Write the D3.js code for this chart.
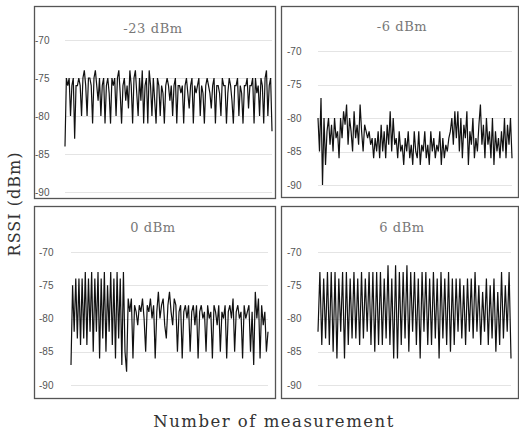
<!DOCTYPE html>
<html>
<head>
<meta charset="utf-8">
<script src="https://cdn.jsdelivr.net/npm/d3@7"></script>
<style>
  body { margin: 0; background: #fff; }
  svg { display: block; }
</style>
</head>
<body>
<svg width="519" height="435"></svg>
<script>
// panel titles (tx power)
var titles = ["-23 dBm", "-6 dBm", "0 dBm", "6 dBm"];
var yTicks = [-70, -75, -80, -85, -90];

// RSSI readings
var rssi_m23 = [-84, -75, -76, -75, -80, -76, -75, -83, -76, -76, -75, -76, -80, -75, -74, -76, -80, -75, -75, -76,
  -81, -75, -74, -76, -78, -75, -80, -76, -75, -81, -76, -75, -77, -81, -75, -76, -75, -80, -75, -74,
  -77, -81, -76, -75, -78, -76, -79, -74, -76, -81, -75, -74, -77, -80, -75, -78, -74, -81, -76, -75,
  -81, -74, -76, -80, -75, -78, -81, -75, -76, -80, -76, -77, -81, -76, -75, -76, -78, -76, -80, -76,
  -75, -81, -76, -76, -77, -76, -81, -76, -75, -77, -79, -76, -75, -81, -76, -77, -76, -75, -80, -76,
  -77, -81, -76, -75, -76, -77, -79, -76, -75, -81, -76, -76, -77, -80, -75, -76, -76, -81, -77, -75,
  -76, -78, -81, -76, -76, -75, -80, -76, -77, -81, -76, -76, -75, -79, -76, -76, -75, -81, -75, -77,
  -76, -80, -75, -76, -81, -75, -74, -80, -76, -75, -82];

var rssi_m6 = [-80, -85, -77, -90, -80, -87, -82, -80, -84, -81, -85, -80, -83, -82, -86, -80, -83, -79, -81, -78,
  -84, -80, -82, -85, -79, -83, -81, -84, -78, -82, -85, -81, -82, -83, -82, -84, -83, -86, -83, -85,
  -82, -86, -81, -85, -82, -86, -81, -84, -79, -85, -80, -84, -83, -86, -82, -85, -84, -87, -83, -85,
  -82, -86, -84, -87, -82, -85, -86, -82, -87, -84, -85, -82, -86, -84, -87, -82, -85, -83, -86, -84,
  -85, -82, -87, -83, -86, -84, -85, -83, -82, -80, -84, -79, -83, -79, -85, -80, -86, -81, -83, -79,
  -87, -82, -84, -80, -86, -83, -85, -81, -78, -84, -81, -86, -80, -84, -82, -86, -80, -87, -82, -85,
  -83, -86, -82, -85, -80, -86, -81, -84, -80, -86];

var rssi_0 = [-87, -75, -82, -74, -83, -74, -84, -74, -83, -73, -84, -74, -82, -73, -85, -74, -82, -73, -86, -74,
  -83, -73, -85, -75, -82, -73, -84, -74, -86, -73, -83, -74, -87, -73, -85, -88, -77, -79, -77, -86,
  -78, -79, -81, -78, -79, -77, -80, -85, -78, -79, -77, -80, -78, -86, -79, -76, -80, -78, -77, -81,
  -83, -78, -76, -79, -81, -77, -78, -85, -79, -78, -86, -79, -78, -80, -78, -85, -79, -78, -81, -78,
  -86, -79, -78, -80, -79, -85, -78, -80, -79, -86, -78, -79, -81, -78, -85, -79, -80, -78, -86, -79,
  -78, -80, -77, -85, -79, -78, -80, -79, -86, -78, -80, -79, -78, -85, -79, -87, -76, -80, -77, -86,
  -78, -81, -79, -85, -82];

var rssi_6 = [-82, -73, -84, -74, -83, -73, -84, -73, -85, -73, -86, -74, -82, -73, -86, -73, -84, -74, -83, -73,
  -83, -74, -84, -73, -83, -74, -82, -73, -84, -73, -85, -73, -84, -73, -84, -74, -83, -72, -84, -74,
  -86, -72, -86, -73, -84, -73, -83, -72, -85, -73, -82, -73, -84, -74, -86, -73, -82, -73, -84, -74,
  -84, -73, -83, -74, -86, -73, -83, -74, -84, -73, -85, -74, -84, -74, -82, -74, -83, -75, -84, -74,
  -82, -74, -83, -73, -82, -75, -84, -76, -82, -74, -84, -75, -83, -74, -85, -76, -84, -73, -83, -75,
  -82, -73, -86];

var series = [rssi_m23, rssi_m6, rssi_0, rssi_6];

// panel geometry
var panels = [
  { box: [34, 6, 275, 198], plot: [65, 272], y: [40, 192], lab: 35, title: [153, 33] },
  { box: [281, 6, 518, 197], plot: [318, 512], y: [51, 185], lab: 287, title: [402, 31] },
  { box: [34, 206, 275, 398], plot: [71, 268], y: [252, 385], lab: 39, title: [153, 232] },
  { box: [281, 206, 518, 398], plot: [318, 511], y: [252, 385], lab: 287, title: [402, 232] }
];

var svg = d3.select("svg");

panels.forEach(function (p, i) {
  var data = series[i];
  var g = svg.append("g");

  var x = d3.scaleLinear().domain([0, data.length - 1]).range(p.plot);
  var y = d3.scaleLinear().domain([-70, -90]).range(p.y);

  // frame
  g.append("rect")
    .attr("x", p.box[0] + 0.5).attr("y", p.box[1] + 0.5)
    .attr("width", p.box[2] - p.box[0]).attr("height", p.box[3] - p.box[1])
    .attr("fill", "none").attr("stroke", "#555").attr("stroke-width", 1.3);

  // gridlines
  g.selectAll(".grid").data(yTicks).enter().append("line")
    .attr("x1", p.plot[0]).attr("x2", p.plot[1])
    .attr("y1", function (d) { return Math.round(y(d)) + 0.5; })
    .attr("y2", function (d) { return Math.round(y(d)) + 0.5; })
    .attr("stroke", "#e4e4e4");

  // tick labels
  g.selectAll(".lab").data(yTicks).enter().append("text")
    .attr("x", p.lab).attr("y", function (d) { return y(d); })
    .attr("dy", "0.35em")
    .attr("font-family", "Liberation Sans, Arial, sans-serif")
    .attr("font-size", 10).attr("fill", "#555")
    .text(function (d) { return d; });

  // title
  g.append("text")
    .attr("x", p.title[0]).attr("y", p.title[1])
    .attr("text-anchor", "middle")
    .attr("font-family", "DejaVu Serif, serif")
    .attr("font-size", 13).attr("letter-spacing", 0.6).attr("fill", "#777")
    .text(titles[i]);

  var line = d3.line()
    .x(function (d, j) { return x(j); })
    .y(function (d) { return y(d); });

  g.append("path").datum(data)
    .attr("d", line)
    .attr("fill", "none").attr("stroke", "#111").attr("stroke-width", 1.2);
});

// axis titles
svg.append("text")
  .attr("transform", "translate(20,204) rotate(-90)")
  .attr("text-anchor", "middle")
  .attr("font-family", "DejaVu Serif, serif")
  .attr("font-size", 16).attr("letter-spacing", 1).attr("fill", "#333")
  .text("RSSI (dBm)");

svg.append("text")
  .attr("x", 274).attr("y", 427)
  .attr("text-anchor", "middle")
  .attr("font-family", "DejaVu Serif, serif")
  .attr("font-size", 16.5).attr("letter-spacing", 1.5).attr("fill", "#333")
  .text("Number of measurement");
</script>
</body>
</html>
